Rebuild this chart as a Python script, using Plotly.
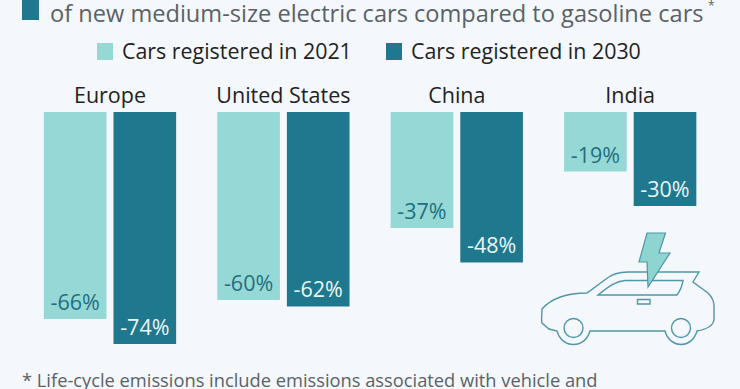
import plotly.graph_objects as go

W, H = 740, 389
categories = ["Europe", "United States", "China", "India"]
series_2021 = [-66, -60, -37, -19]
series_2030 = [-74, -62, -48, -30]
labels_2021 = ["-66%", "-60%", "-37%", "-19%"]
labels_2030 = ["-74%", "-62%", "-48%", "-30%"]
name_2021 = "Cars registered in 2021"
name_2030 = "Cars registered in 2030"
title_text = "of new medium-size electric cars compared to gasoline cars"
footnote = "* Life-cycle emissions include emissions associated with vehicle and"

LIGHT, DARK = "#95d8d5", "#20788e"
BG = "#f4f8fc"
FONT = "Open Sans"
ICON = "#4f96a6"

def px(x): return x / W
def py(y): return 1 - y / H
def P(x, y): return f"{px(x):.5f},{py(y):.5f}"

fig = go.Figure()
fig.add_bar(x=categories, y=series_2021, name=name_2021, marker=dict(color=LIGHT, line_width=0),
            text=labels_2021, textposition="inside", insidetextanchor="end", textangle=0,
            textfont=dict(color="#1f6f7f", size=21.5, family=FONT), hoverinfo="skip")
fig.add_bar(x=categories, y=series_2030, name=name_2030, marker=dict(color=DARK, line_width=0),
            text=labels_2030, textposition="inside", insidetextanchor="end", textangle=0,
            textfont=dict(color="#eaf6f6", size=21.5, family=FONT), hoverinfo="skip")

def ann(x, y, text, size, color, anchor="left"):
    return dict(x=px(x), y=py(y), xref="paper", yref="paper", text=text, showarrow=False,
                xanchor=anchor, yanchor="middle", align="left", borderpad=0, borderwidth=0,
                font=dict(family=FONT, size=size, color=color))

def rect(x0, y0, x1, y1, color):
    return dict(type="rect", xref="paper", yref="paper", x0=px(x0), x1=px(x1), y0=py(y0), y1=py(y1),
                fillcolor=color, line_width=0, layer="above")

def stroke(d, fill="rgba(0,0,0,0)", w=1.4):
    return dict(type="path", xref="paper", yref="paper", path=d,
                line=dict(color=ICON, width=w), fillcolor=fill, layer="above")

shapes = [rect(22, 0, 39, 20, DARK), rect(97, 43, 113, 60, LIGHT), rect(386, 43, 402, 60, DARK)]

body = " ".join([
    "M", P(542, 309),
    "C", P(550, 300), P(565, 293), P(587, 293),
    "L", P(606, 279),
    "C", P(612, 274), P(618, 272), P(628, 272),
    "L", P(699, 272), "L", P(693, 282), "L", P(708, 293),
    "C", P(712, 297), P(714, 301), P(714, 306),
    "L", P(714, 320),
    "C", P(713, 326), P(708, 329), P(697, 331),
    "C", P(692, 349), P(670, 349), P(665, 331),
    "L", P(590, 331),
    "C", P(585, 349), P(562, 349), P(557, 331),
    "L", P(549, 329), "L", P(542, 323),
    "C", P(541, 320), P(542, 314), P(542, 309), "Z"])
shapes.append(stroke(body))
window = " ".join([
    "M", P(598, 295), "L", P(677, 295),
    "C", P(680, 291), P(682, 286), P(683, 280.5),
    "L", P(625, 280.5),
    "C", P(616, 281), P(609, 286), P(598, 295), "Z"])
shapes.append(stroke(window))
shapes.append(dict(type="rect", xref="paper", yref="paper", x0=px(637.5), x1=px(650), y0=py(304), y1=py(299.5),
                   line=dict(color=ICON, width=1.4), fillcolor=BG, layer="above"))
for cx in (573.5, 681):
    shapes.append(dict(type="circle", xref="paper", yref="paper", x0=px(cx-9.5), x1=px(cx+9.5),
                       y0=py(328+9.5), y1=py(328-9.5), line=dict(color=ICON, width=1.4),
                       fillcolor="rgba(0,0,0,0)", layer="above"))
bolt = [(647, 233), (665.5, 233), (659, 253), (670, 253), (648, 287), (647, 262), (639, 262)]
shapes.append(stroke("M " + " L ".join(P(a, b) for a, b in bolt) + " Z", fill="#8ed5d2", w=1.2))

annotations = [
    ann(50, 13, title_text, 23.6, "#5a6266"),
    ann(708, 5, "*", 12, "#5a6266"),
    ann(122, 51, name_2021, 21.4, "#222222"),
    ann(411, 51, name_2030, 21.4, "#222222"),
    ann(22, 379, footnote, 18.3, "#5a6266"),
]

fig.update_layout(
    width=W, height=H, margin=dict(l=0, r=0, t=0, b=0), autosize=False,
    paper_bgcolor=BG, plot_bgcolor=BG, showlegend=False,
    barmode="group", bargap=0.197, bargroupgap=0.1,
    font=dict(family=FONT),
    xaxis=dict(domain=[23.3/W, 716.9/W], side="top", showline=False, showgrid=False, zeroline=False,
               ticks="", ticklabelstandoff=4, tickfont=dict(family=FONT, size=21.5, color="#222222"), automargin=False),
    yaxis=dict(domain=[1-344/H, 1-112/H], range=[-74, 0], visible=False, showgrid=False, zeroline=False),
    shapes=shapes, annotations=annotations,
)
fig.write_html("out.html", config={"displayModeBar": False},
               post_script="document.body.style.margin='0';document.documentElement.style.overflow='hidden';document.documentElement.style.background='#f4f8fc';")
